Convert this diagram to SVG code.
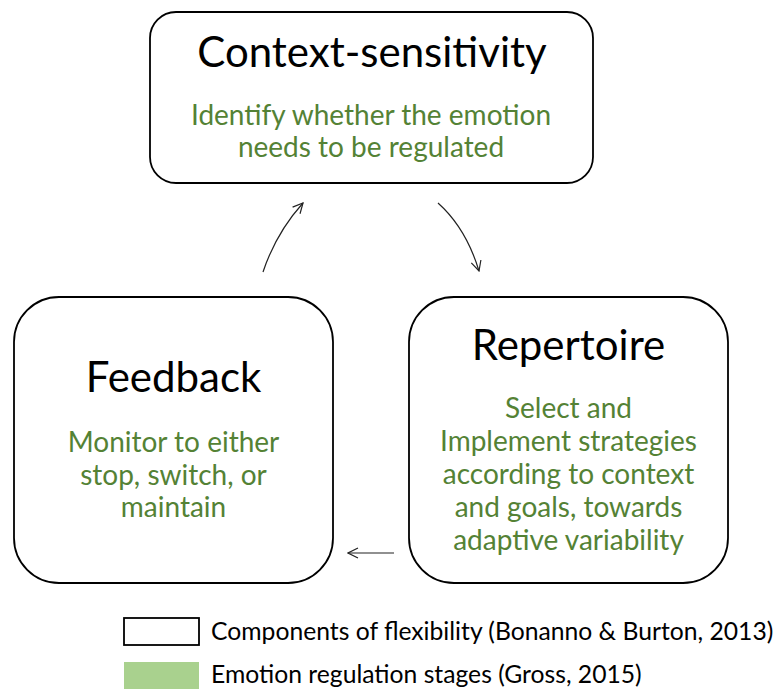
<svg xmlns="http://www.w3.org/2000/svg" width="778" height="689" viewBox="0 0 778 689">
<style>
.box{fill:#fff;stroke:#000;stroke-width:1.8}
.title{font-family:Lato,"Open Sans",sans-serif;font-size:42px;fill:#000;text-anchor:middle}
.desc{font-family:Lato,"Open Sans",sans-serif;font-size:28px;fill:#548235;text-anchor:middle}
.leg{font-family:Lato,"Open Sans",sans-serif;font-size:24.7px;fill:#000}
.conn{fill:none;stroke:#222;stroke-width:1.2}
</style>
<defs>
<marker id="arr" markerUnits="userSpaceOnUse" viewBox="0 0 12 12" refX="11" refY="6" markerWidth="12" markerHeight="12" orient="auto">
<path d="M1,1 L11,6 L1,11" fill="none" stroke="#222" stroke-width="1.2"/>
</marker>
</defs>
<rect width="778" height="689" fill="#fff"/>
<g id="context-sensitivity">
<rect class="box" x="150" y="12" width="443" height="171" rx="26" ry="26"/>
<text class="title" x="372" y="67">Context-sensitivity</text>
<text class="desc" x="371" y="125">Identify whether the emotion</text>
<text class="desc" x="371" y="157">needs to be regulated</text>
</g>
<g id="feedback">
<rect class="box" x="14" y="297" width="319" height="286" rx="45" ry="45"/>
<text class="title" x="173.5" y="392">Feedback</text>
<text class="desc" x="173.5" y="452">Monitor to either</text>
<text class="desc" x="173.5" y="485">stop, switch, or</text>
<text class="desc" x="173.5" y="517">maintain</text>
</g>
<g id="repertoire">
<rect class="box" x="409" y="297" width="319" height="286" rx="45" ry="45"/>
<text class="title" x="568.5" y="360">Repertoire</text>
<text class="desc" x="568.5" y="418">Select and</text>
<text class="desc" x="568.5" y="451">Implement strategies</text>
<text class="desc" x="568.5" y="484">according to context</text>
<text class="desc" x="568.5" y="517">and goals, towards</text>
<text class="desc" x="568.5" y="550">adaptive variability</text>
</g>
<g id="connectors">
<path class="conn" d="M263,272 Q276,233 303,203" marker-end="url(#arr)"/>
<path class="conn" d="M438,203 Q466,228 479,271" marker-end="url(#arr)"/>
<path class="conn" d="M394,553 L348,553" marker-end="url(#arr)"/>
</g>
<g id="legend">
<rect x="124" y="618" width="75" height="27" fill="#fff" stroke="#000" stroke-width="1.8"/>
<rect x="124" y="662" width="75" height="27" fill="#a9d18e"/>
<text class="leg" x="211" y="640">Components of flexibility (Bonanno &amp; Burton, 2013)</text>
<text class="leg" x="211" y="683">Emotion regulation stages (Gross, 2015)</text>
</g>
</svg>
